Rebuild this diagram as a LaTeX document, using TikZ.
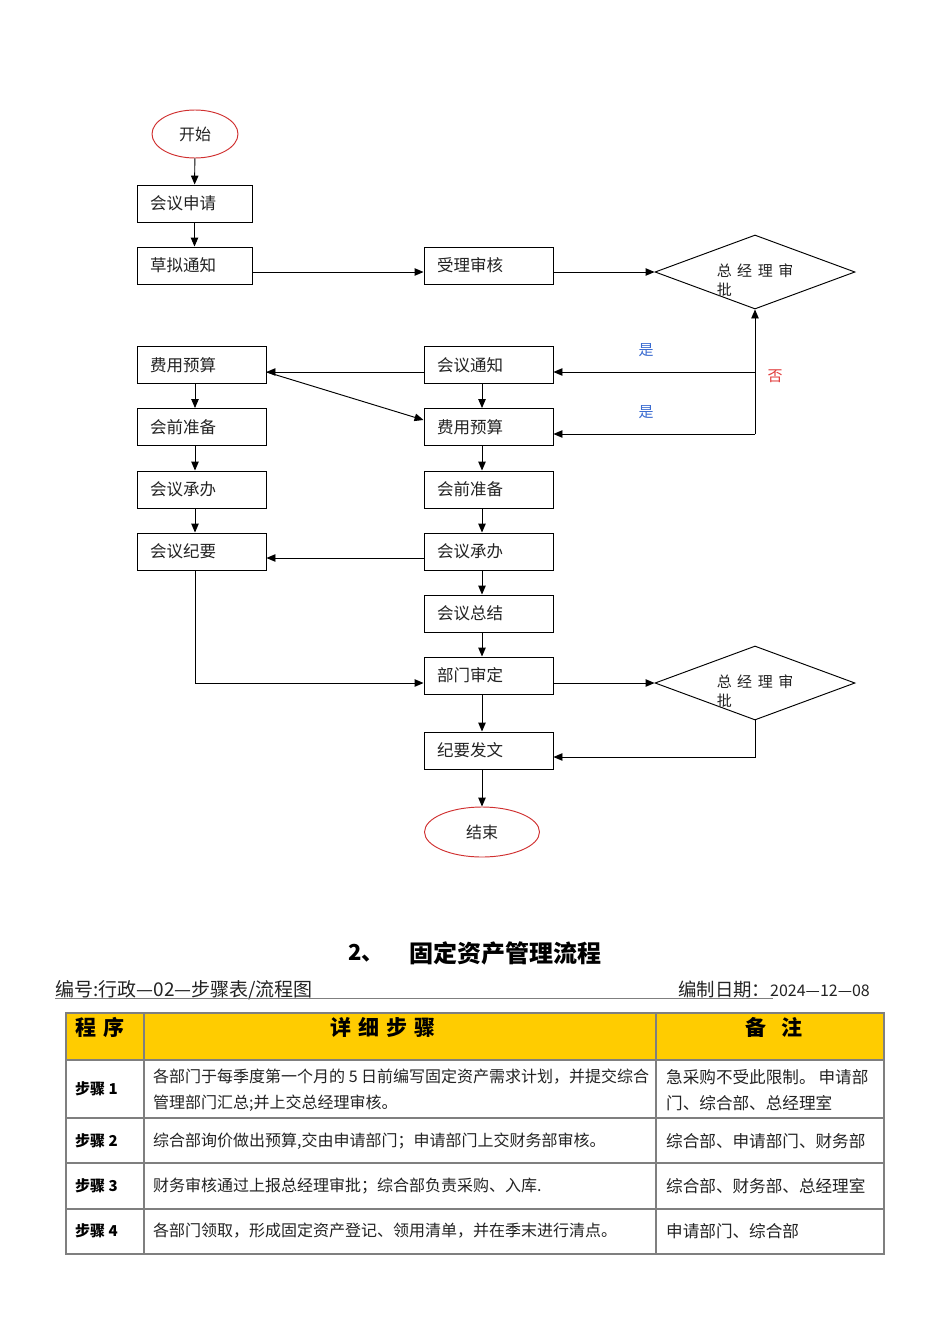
\documentclass[tikz,border=0pt]{standalone}
\usepackage{fontspec}
\setmainfont{Noto Sans CJK SC}
\usetikzlibrary{shapes.geometric,arrows.meta}
\definecolor{redline}{HTML}{D03030}
\definecolor{yesblue}{HTML}{3A6BD0}
\definecolor{nored}{HTML}{E03A3A}
\definecolor{hdr}{HTML}{FFCC00}
\definecolor{txt}{HTML}{222222}
\definecolor{gridc}{HTML}{7F7F7F}
\newcommand{\dsp}{\hspace{5.5pt}}
\tikzset{
  box/.style={draw, line width=0.95pt, minimum height=37pt, inner xsep=13pt, inner ysep=0pt,
    align=left, text width=#1, font=\fontsize{16.5}{18}\selectfont, text=txt},
  term/.style={draw=redline, line width=0.95pt, ellipse, inner sep=0pt, font=\fontsize{16}{18}\selectfont, text=txt},
  dia/.style={draw, line width=0.95pt, diamond, inner sep=0pt, minimum width=200pt, minimum height=74pt, aspect=2.7},
  diatext/.style={align=left, font=\fontsize{15}{19}\selectfont, text=txt, inner sep=0pt},
  arr/.style={line width=0.95pt, -{Triangle[length=9pt,width=7.5pt]}},
  lab/.style={font=\fontsize{15}{18}\selectfont, inner sep=0pt},
  cell/.style={font=\fontsize{16}{26}\selectfont, text=txt, inner sep=0pt, anchor=west, align=left},
  rcell/.style={font=\fontsize{16.6}{26}\selectfont, text=txt, inner sep=0pt, anchor=west, align=left},
  scell/.style={font=\fontsize{15}{18}\selectfont\bfseries, text=black, inner sep=0pt, anchor=west},
  hcell/.style={font=\fontsize{21}{24}\selectfont\bfseries, text=black, inner sep=0pt},
}
\begin{document}
\begin{tikzpicture}[x=1pt,y=-1pt]
\useasboundingbox (0,0) rectangle (950,1344);
% flowchart
\node[term, minimum width=86pt, minimum height=48pt] (start) at (195,134) {开始};
\node[box=89pt] (req) at (194.5,203.5) {会议申请};
\node[box=89pt] (draft) at (194.5,265.5) {草拟通知};
\node[box=103pt] (accept) at (488.5,265.5) {受理审核};
\node[dia] (d1) at (755,272) {};
\node[diatext] (d1t) at (755,280) {总\dsp 经\dsp 理\dsp 审\\批};

\node[box=103pt] (fee1) at (201.5,365) {费用预算};
\node[box=103pt] (prep1) at (201.5,427) {会前准备};
\node[box=103pt] (host1) at (201.5,489.5) {会议承办};
\node[box=103pt] (mins) at (201.5,551.5) {会议纪要};

\node[box=103pt] (notice) at (488.5,365) {会议通知};
\node[box=103pt] (fee2) at (488.5,427) {费用预算};
\node[box=103pt] (prep2) at (488.5,489.5) {会前准备};
\node[box=103pt] (host2) at (488.5,551.5) {会议承办};
\node[box=103pt] (summ) at (488.5,613.5) {会议总结};
\node[box=103pt] (dept) at (488.5,675.5) {部门审定};
\node[box=103pt] (issue) at (488.5,750.5) {纪要发文};
\node[term, minimum width=115pt, minimum height=50pt] (end) at (482,832) {结束};
\node[dia] (d2) at (755,683) {};
\node[diatext] (d2t) at (755,691) {总\dsp 经\dsp 理\dsp 审\\批};

\coordinate (j1) at (755,372);
\coordinate (j2) at (755,434);

\node[lab, text=yesblue] (yes1) at (646,350) {是};
\node[lab, text=yesblue] (yes2) at (646,412) {是};
\node[lab, text=nored] (no1) at (775,376) {否};

\draw[arr] (start) -- (req);
\draw[arr] (req) -- (draft);
\draw[arr] ([yshift=-6.5pt]draft.east) -- ([yshift=-6.5pt]accept.west);
\draw[arr] ([yshift=-6.5pt]accept.east) -- (d1.west);
\draw[arr] (j2) -- (d1.south);
\draw[arr] (j1) -- ([yshift=-7pt]notice.east);
\draw[arr] (j2) -- ([yshift=-7pt]fee2.east);
\draw[arr] ([yshift=-7pt]notice.west) -- ([yshift=-7pt]fee1.east);
\draw[arr] ([yshift=-7pt]fee1.east) -- ([yshift=7pt]fee2.west);
\draw[arr] ([xshift=-6.5pt]fee1.south) -- ([xshift=-6.5pt]prep1.north);
\draw[arr] ([xshift=-6.5pt]prep1.south) -- ([xshift=-6.5pt]host1.north);
\draw[arr] ([xshift=-6.5pt]host1.south) -- ([xshift=-6.5pt]mins.north);
\draw[arr] ([xshift=-6.5pt]notice.south) -- ([xshift=-6.5pt]fee2.north);
\draw[arr] ([xshift=-6.5pt]fee2.south) -- ([xshift=-6.5pt]prep2.north);
\draw[arr] ([xshift=-6.5pt]prep2.south) -- ([xshift=-6.5pt]host2.north);
\draw[arr] ([xshift=-6.5pt]host2.south) -- ([xshift=-6.5pt]summ.north);
\draw[arr] ([xshift=-6.5pt]summ.south) -- ([xshift=-6.5pt]dept.north);
\draw[arr] ([xshift=-6.5pt]dept.south) -- ([xshift=-6.5pt]issue.north);
\draw[arr] ([xshift=-6.5pt]issue.south) -- (end.north);
\draw[arr] ([yshift=-6.5pt]host2.west) -- ([yshift=-6.5pt]mins.east);
\draw[arr] ([xshift=-6.5pt]mins.south) |- ([yshift=-7.5pt]dept.west);
\draw[arr] ([yshift=-7.5pt]dept.east) -- (d2.west);
\draw[arr] (d2.south) |- ([yshift=-6.5pt]issue.east);

% title
\node[font=\fontsize{22}{26}\selectfont\bfseries, anchor=west, inner sep=0pt] (t1) at (348,953) {2、};
\node[font=\fontsize{24}{26}\selectfont\bfseries, anchor=west, inner sep=0pt] (t2) at (409,953) {固定资产管理流程};
\node[font=\fontsize{19}{20}\selectfont, text=txt, anchor=base west, inner sep=0pt] (code) at (55,996) {编号:行政—02—步骤表/流程图};
\node[font=\fontsize{18.4}{20}\selectfont, text=txt, anchor=base west, inner sep=0pt] (date) at (678,996) {编制日期：\fontsize{16}{18}\selectfont 2024—12—08};
\draw[line width=1.5pt, gridc] (55,998.5) -- (773,998.5);

% table
\fill[hdr] (66,1013) rectangle (884,1060);
\draw[gridc, line width=1.2pt] (66,1013) rectangle (884,1254);
\foreach \yy in {1060,1118,1163,1209} \draw[gridc, line width=1.2pt] (66,\yy) -- (884,\yy);
\foreach \xx in {144,656} \draw[gridc, line width=1.2pt] (\xx,1013) -- (\xx,1254);

\node[hcell, anchor=west] (h1) at (75,1027) {程\hspace{7pt}序};
\node[hcell] (h2) at (383,1027) {详\hspace{7pt}细\hspace{7pt}步\hspace{7pt}骤};
\node[hcell] (h3) at (774,1027) {备\hspace{16pt}注};

\node[scell] (s1) at (75,1089) {步骤 1};
\node[scell] (s2) at (75,1141) {步骤 2};
\node[scell] (s3) at (75,1186) {步骤 3};
\node[scell] (s4) at (75,1231) {步骤 4};

\node[cell] (c1) at (153,1090) {各部门于每季度第一个月的 5 日前编写固定资产需求计划，并提交综合\\管理部门汇总;并上交总经理审核。};
\node[cell] (c2) at (153,1141) {综合部询价做出预算,交由申请部门；申请部门上交财务部审核。};
\node[cell] (c3) at (153,1186) {财务审核通过上报总经理审批；综合部负责采购、入库.};
\node[cell] (c4) at (153,1231) {各部门领取，形成固定资产登记、领用清单，并在季末进行清点。};

\node[rcell] (r1) at (666,1090) {急采购不受此限制。\hspace{3pt}申请部\\门、综合部、总经理室};
\node[rcell] (r2) at (666,1141) {综合部、申请部门、财务部};
\node[rcell] (r3) at (666,1186) {综合部、财务部、总经理室};
\node[rcell] (r4) at (666,1231) {申请部门、综合部};
\end{tikzpicture}
\end{document}
